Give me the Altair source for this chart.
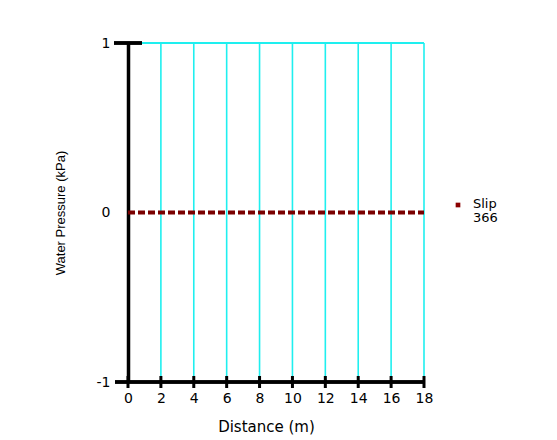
import altair as alt
import pandas as pd

# Series: water pressure along the slip surface
distance = [0, 1, 2, 3, 4, 5, 6, 7, 8, 9, 10, 11, 12, 13, 14, 15, 16, 17, 18]
pressure = [0, 0, 0, 0, 0, 0, 0, 0, 0, 0, 0, 0, 0, 0, 0, 0, 0, 0, 0]
series_name = "Slip 366"

x_ticks = [0, 2, 4, 6, 8, 10, 12, 14, 16, 18]
y_ticks = [-1, 0, 1]

W, H = 296, 339
FONT = "Liberation Sans"

line_df = pd.DataFrame({"d": distance, "p": pressure, "s": series_name})
grid_df = pd.DataFrame({"d": [t for t in x_ticks if t != 0]})
tick_df = pd.DataFrame({"d": x_ticks})

xs = alt.Scale(domain=[0, 18], nice=False, zero=False)
ys = alt.Scale(domain=[-1, 1], nice=False)

x_axis = alt.Axis(
    values=x_ticks, title="Distance (m)", grid=False, domain=False, ticks=False,
    format="d",
    labelFont="DejaVu Sans", labelFontSize=14, labelColor="black", labelPadding=9,
    labelOverlap=False, labelFlush=False, labelBound=False,
    titleFont="DejaVu Sans", titleFontSize=15, titleFontWeight="normal", titleColor="black",
    titleY=44, titleX=138, titleBaseline="middle",
)
y_axis = alt.Axis(
    values=y_ticks, title="Water Pressure (kPa)", grid=False, domain=True,
    domainColor="black", domainWidth=3.5, ticks=False,
    labelExpr="'' + datum.value", labelOverlap=False, labelFlush=False, labelBound=False,
    labelFont="DejaVu Sans", labelFontSize=14, labelColor="black", labelPadding=18,
    titleFont=FONT, titleFontSize=13, titleFontWeight="normal",
    titleColor="black", titleX=-68, titleY=H / 2, titleAlign="center", titleBaseline="middle",
)

# vertical cyan grid
grid = alt.Chart(grid_df).mark_rule(color="#1FEFEF", strokeWidth=1.6).encode(
    x=alt.X("d:Q", scale=xs, axis=x_axis),
    y=alt.value(0), y2=alt.value(H),
)

# top boundary at y = 1
top = alt.Chart(grid_df).mark_rule(color="#1FEFEF", strokeWidth=1.6).encode(
    x=alt.value(0), x2=alt.value(W), y=alt.value(0),
)
top_tick = alt.Chart(grid_df).mark_rule(color="black", strokeWidth=2.5).encode(
    x=alt.value(-14), x2=alt.value(14), y=alt.value(0),
)

# bottom axis line extended to the left of the y axis
bottom = alt.Chart(grid_df).mark_rule(color="black", strokeWidth=2.5).encode(
    x=alt.value(-13), x2=alt.value(W), y=alt.value(H),
)

# x ticks crossing the axis line
ticks = alt.Chart(tick_df).mark_rule(color="black", strokeWidth=3).encode(
    x=alt.X("d:Q", scale=xs, axis=x_axis),
    y=alt.value(H - 6), y2=alt.value(H + 6),
)

line = alt.Chart(line_df).mark_line(
    color="#7A0000", strokeWidth=4, strokeDash=[7, 3]
).encode(
    x=alt.X("d:Q", scale=xs, axis=x_axis),
    y=alt.Y("p:Q", scale=ys, axis=y_axis),
)

# legend entry
leg_df = pd.DataFrame({"s": [series_name]})
leg_sym = alt.Chart(leg_df).mark_square(color="#8B0000", size=22, opacity=1).encode(
    x=alt.value(330), y=alt.value(162),
)
leg_txt = alt.Chart(leg_df).mark_text(
    align="left", baseline="top", font="DejaVu Sans", fontSize=13,
    lineBreak=" ", lineHeight=14, color="black",
).encode(
    x=alt.value(345), y=alt.value(155), text="s:N",
)

chart = alt.layer(grid, top, line, bottom, ticks, top_tick, leg_sym, leg_txt).properties(
    width=W, height=H,
    autosize=alt.AutoSizeParams(type="none"),
    padding={"left": 128, "top": 43, "right": 133, "bottom": 58},
    background="white",
).configure_view(stroke=None)

chart.save("out.html", embed_options={"renderer": "svg", "actions": False})
